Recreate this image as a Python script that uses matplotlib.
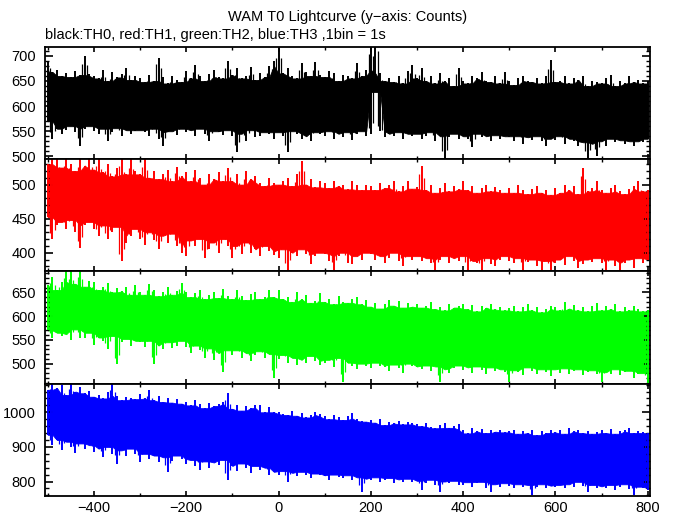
import numpy as np
import matplotlib.pyplot as plt
from matplotlib.ticker import MultipleLocator

plt.rcParams['font.family'] = ['Liberation Sans', 'DejaVu Sans']

# 1 s lightcurves shown as min/max envelope per 10 s bin (bin centres below)
t_bin = np.arange(-500, 801, 10)

th0_hi = [690, 668, 672, 660, 665, 658, 670, 662, 700, 664,
          660, 655, 672, 650, 668, 657, 663, 676, 652, 660,
          655, 648, 662, 650, 695, 658, 645, 660, 652, 648,
          670, 655, 681, 660, 650, 664, 672, 658, 655, 690,
          662, 676, 655, 660, 678, 652, 665, 658, 680, 690,
          715, 665, 675, 660, 655, 685, 668, 660, 688, 662,
          658, 670, 665, 650, 662, 660, 655, 685, 660, 672,
          720, 720, 665, 650, 656, 648, 660, 645, 670, 681,
          655, 675, 650, 660, 645, 665, 650, 655, 640, 675,
          650, 645, 660, 655, 668, 650, 648, 660, 645, 668,
          650, 642, 655, 660, 650, 648, 656, 645, 660, 691,
          648, 650, 660, 645, 655, 652, 660, 640, 650, 648,
          645, 655, 661, 640, 650, 645, 660, 648, 652, 645,
          650]
th0_lo = [570, 535, 555, 545, 552, 560, 548, 521, 555, 560,
          550, 545, 555, 530, 548, 556, 540, 552, 545, 550,
          552, 548, 540, 555, 535, 520, 548, 550, 542, 555,
          548, 552, 540, 555, 545, 530, 550, 548, 542, 552,
          540, 508, 545, 530, 552, 538, 540, 548, 545, 535,
          548, 540, 508, 550, 545, 535, 540, 530, 548, 545,
          540, 550, 535, 545, 538, 548, 532, 545, 550, 541,
          545, 628, 550, 538, 545, 540, 548, 535, 545, 540,
          545, 535, 540, 548, 530, 540, 495, 538, 545, 535,
          540, 535, 518, 545, 538, 540, 530, 542, 535, 540,
          538, 530, 540, 525, 538, 532, 540, 530, 520, 535,
          532, 540, 525, 535, 530, 520, 528, 495, 525, 500,
          530, 520, 535, 528, 532, 525, 530, 520, 530, 528,
          535]

th1_hi = [530, 537, 537, 525, 537, 530, 520, 537, 528, 537,
          522, 537, 518, 530, 512, 525, 537, 515, 537, 520,
          515, 537, 510, 520, 508, 515, 522, 505, 526, 512,
          518, 505, 522, 510, 500, 515, 508, 518, 505, 525,
          505, 515, 500, 520, 508, 512, 503, 498, 510, 502,
          500, 505, 510, 498, 515, 535, 500, 508, 496, 505,
          502, 495, 505, 498, 500, 493, 505, 500, 492, 500,
          498, 492, 503, 495, 500, 506, 490, 498, 505, 494,
          496, 527, 492, 500, 488, 495, 502, 490, 498, 493,
          505, 492, 498, 488, 495, 500, 490, 496, 492, 488,
          495, 488, 500, 492, 486, 494, 498, 488, 492, 485,
          495, 488, 500, 492, 498, 486, 525, 490, 495, 505,
          492, 488, 495, 500, 490, 486, 494, 498, 506, 490,
          492]
th1_lo = [452, 420, 440, 445, 435, 448, 430, 407, 440, 445,
          435, 425, 440, 420, 430, 438, 388, 415, 425, 435,
          420, 412, 430, 418, 405, 425, 415, 428, 410, 400,
          395, 418, 410, 420, 393, 405, 415, 400, 420, 410,
          392, 410, 398, 415, 400, 405, 395, 410, 402, 396,
          392, 405, 373, 400, 395, 405, 398, 384, 395, 400,
          398, 388, 373, 395, 400, 385, 383, 395, 390, 400,
          398, 390, 395, 385, 392, 400, 388, 380, 395, 390,
          395, 388, 392, 385, 373, 390, 395, 385, 392, 388,
          395, 373, 388, 385, 373, 392, 384, 380, 390, 395,
          388, 385, 392, 373, 386, 390, 380, 375, 388, 373,
          385, 390, 382, 395, 388, 378, 384, 390, 386, 392,
          385, 375, 390, 380, 373, 385, 390, 378, 392, 385,
          390]

th2_hi = [665, 682, 655, 672, 694, 694, 668, 694, 662, 675,
          672, 655, 662, 670, 650, 660, 652, 661, 645, 665,
          650, 645, 668, 655, 642, 650, 662, 645, 652, 670,
          650, 640, 648, 655, 636, 645, 650, 638, 658, 642,
          636, 655, 642, 634, 646, 650, 636, 640, 656, 640,
          654, 636, 640, 630, 650, 636, 645, 628, 632, 648,
          630, 636, 625, 642, 630, 628, 636, 640, 625, 633,
          620, 628, 616, 625, 633, 622, 632, 618, 628, 620,
          625, 618, 622, 630, 615, 620, 612, 626, 618, 622,
          626, 615, 624, 610, 622, 618, 626, 614, 620, 612,
          618, 622, 610, 620, 626, 612, 620, 608, 615, 622,
          620, 612, 630, 616, 624, 612, 620, 610, 622, 628,
          612, 622, 615, 625, 610, 619, 612, 622, 614, 610,
          612]
th2_lo = [570, 553, 565, 558, 562, 550, 572, 555, 553, 565,
          540, 555, 548, 530, 558, 500, 545, 552, 538, 548,
          545, 535, 548, 500, 538, 530, 545, 532, 538, 548,
          535, 522, 538, 528, 512, 532, 508, 522, 483, 528,
          518, 528, 512, 522, 505, 518, 526, 512, 520, 470,
          510, 518, 502, 512, 498, 508, 502, 516, 506, 498,
          502, 508, 492, 512, 462, 502, 495, 488, 500, 495,
          490, 502, 496, 492, 484, 498, 490, 480, 500, 494,
          492, 488, 496, 484, 494, 462, 488, 480, 490, 496,
          486, 492, 480, 494, 486, 478, 492, 484, 488, 482,
          462, 486, 482, 476, 492, 484, 478, 488, 482, 474,
          488, 480, 490, 478, 484, 488, 476, 482, 486, 478,
          462, 482, 478, 488, 476, 482, 485, 470, 478, 480,
          460]

th3_hi = [1065, 1083, 1070, 1078, 1050, 1083, 1060, 1072, 1055, 1062,
          1045, 1050, 1040, 1058, 1083, 1048, 1035, 1045, 1040, 1038,
          1052, 1040, 1065, 1035, 1046, 1030, 1042, 1028, 1038, 1025,
          1030, 1020, 1035, 1025, 1012, 1028, 1018, 1024, 1030, 1055,
          1010, 1022, 1005, 1018, 1012, 1020, 1021, 1000, 1015, 1002,
          1000, 995, 992, 1005, 990, 998, 985, 992, 1002, 995,
          988, 980, 992, 985, 978, 990, 997, 982, 975, 973,
          978, 970, 982, 963, 972, 968, 975, 965, 973, 970,
          965, 960, 970, 958, 954, 962, 968, 955, 960, 965,
          950, 939, 955, 945, 952, 940, 948, 944, 950, 942,
          945, 950, 938, 946, 940, 948, 934, 945, 940, 950,
          942, 948, 938, 954, 945, 950, 940, 946, 938, 944,
          948, 940, 952, 938, 945, 950, 954, 940, 946, 942,
          940]
th3_lo = [935, 905, 920, 890, 915, 900, 881, 910, 895, 905,
          885, 895, 870, 900, 880, 852, 890, 875, 895, 880,
          857, 880, 865, 875, 856, 870, 828, 860, 875, 865,
          850, 862, 845, 833, 858, 840, 855, 848, 862, 804,
          845, 830, 852, 838, 825, 845, 832, 840, 818, 828,
          818, 830, 799, 825, 815, 828, 820, 810, 823, 818,
          815, 805, 820, 812, 809, 818, 805, 812, 770, 808,
          805, 812, 798, 804, 810, 795, 806, 800, 808, 798,
          802, 775, 795, 805, 790, 770, 800, 795, 802, 790,
          790, 798, 785, 795, 799, 780, 770, 792, 785, 795,
          788, 780, 792, 785, 790, 760, 785, 792, 780, 788,
          785, 790, 780, 792, 785, 799, 788, 770, 790, 782,
          786, 780, 790, 775, 785, 792, 778, 760, 785, 780,
          775]

colors = ['black', '#ff0000', '#00ff00', '#0000ff']
ylims = [(494, 717), (372.5, 537), (458, 694), (759, 1083)]
ymajor = [50, 50, 50, 100]
yminor = [10, 10, 10, 20]
series = [(th0_lo, th0_hi), (th1_lo, th1_hi), (th2_lo, th2_hi), (th3_lo, th3_hi)]

fig = plt.figure(figsize=(6.74, 5.15), dpi=100)
gs = fig.add_gridspec(4, 1, left=0.0675, right=0.9644, top=0.9082,
                      bottom=0.0375, hspace=0)

for i, (lo, hi) in enumerate(series):
    ax = fig.add_subplot(gs[i])
    lo = np.array(lo, float)
    hi = np.array(hi, float)
    hp = np.pad(hi, 1, mode='edge')
    lp = np.pad(lo, 1, mode='edge')
    # solid core = range shared by neighbouring bins, needles = full min/max
    core_hi = np.minimum(np.minimum(hp[:-2], hp[1:-1]), hp[2:])
    core_lo = np.maximum(np.maximum(lp[:-2], lp[1:-1]), lp[2:])
    ax.fill_between(t_bin, core_lo, core_hi, color=colors[i], lw=0.6)
    ax.vlines(t_bin, lo, hi, color=colors[i], lw=1.4)
    # thinner needles between bin centres
    span = hi - lo
    mid_lo = np.minimum(lo, lp[2:]) + 0.12 * span
    mid_hi = np.maximum(hi, hp[2:]) - 0.12 * span
    ax.vlines(t_bin[:-1] + 5, mid_lo[:-1], mid_hi[:-1], color=colors[i], lw=0.9)
    ax.set_xlim(-505, 805)
    ax.set_ylim(*ylims[i])
    ax.xaxis.set_major_locator(MultipleLocator(200))
    ax.xaxis.set_minor_locator(MultipleLocator(100))
    ax.yaxis.set_major_locator(MultipleLocator(ymajor[i]))
    ax.yaxis.set_minor_locator(MultipleLocator(yminor[i]))
    ax.tick_params(which='both', direction='in', top=True, right=True,
                   labelsize=10.5, colors='black')
    ax.tick_params(axis='x', which='major', length=3.6, width=1.2, pad=4)
    ax.tick_params(axis='x', which='minor', length=2.2, width=1)
    ax.tick_params(axis='y', which='major', length=5.8, width=1.2, pad=7)
    ax.tick_params(axis='y', which='minor', length=2.9, width=1)
    for s in ax.spines.values():
        s.set_linewidth(1.3)
    if i < 3:
        ax.tick_params(labelbottom=False)

fig.text(0.516, 1 - 17 / 515, 'WAM T0 Lightcurve (y\u2212axis: Counts)',
         ha='center', va='center', fontsize=10.5)
fig.text(45 / 674, 1 - 35 / 515,
         'black:TH0, red:TH1, green:TH2, blue:TH3 ,1bin = 1s',
         ha='left', va='center', fontsize=10.5)

plt.savefig('out.png', dpi=100)
